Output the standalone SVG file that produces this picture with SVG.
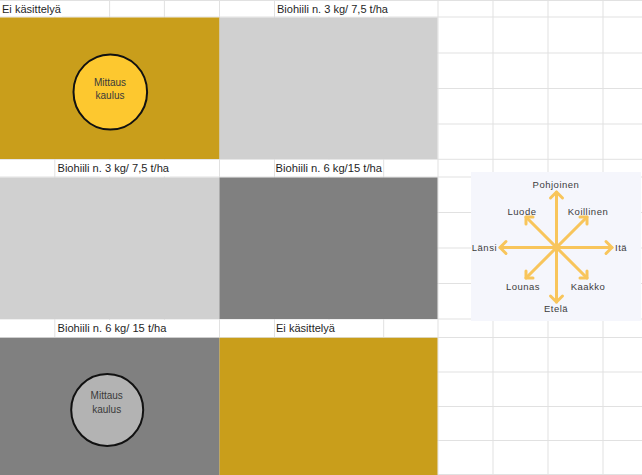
<svg xmlns="http://www.w3.org/2000/svg" width="642" height="475" viewBox="0 0 642 475">
<style>
.grid line{stroke:#E1E1E1;stroke-width:1}
.cell{font-family:"Liberation Sans",Arial,sans-serif;font-size:11px;fill:#1F1F1F}
.gold{fill:#C99E1B}
.lgrey{fill:#D0D0D0}
.dgrey{fill:#808080}
.ctext{font-family:"Liberation Sans",Arial,sans-serif;font-size:10px;fill:#3A3A3A;text-anchor:middle}
.dir{font-family:"Liberation Sans",Arial,sans-serif;font-size:9.5px;letter-spacing:0.5px;fill:#3C3C3C}
.arr{stroke:#F8C55B;stroke-width:3;fill:none;stroke-linecap:round;stroke-linejoin:round}
</style>
<rect width="642" height="475" fill="#FFFFFF"/>
<g id="grid" class="grid">
<line x1="54.8" y1="0" x2="54.8" y2="475"/>
<line x1="109.6" y1="0" x2="109.6" y2="475"/>
<line x1="164.4" y1="0" x2="164.4" y2="475"/>
<line x1="219.5" y1="0" x2="219.5" y2="475"/>
<line x1="274.5" y1="0" x2="274.5" y2="475"/>
<line x1="329" y1="0" x2="329" y2="475"/>
<line x1="383.7" y1="0" x2="383.7" y2="475"/>
<line x1="438" y1="0" x2="438" y2="475"/>
<line x1="493" y1="0" x2="493" y2="475"/>
<line x1="548" y1="0" x2="548" y2="475"/>
<line x1="603" y1="0" x2="603" y2="475"/>
<line x1="0" y1="0.5" x2="642" y2="0.5"/>
<line x1="0" y1="17" x2="642" y2="17"/>
<line x1="0" y1="53" x2="642" y2="53"/>
<line x1="0" y1="88.5" x2="642" y2="88.5"/>
<line x1="0" y1="124" x2="642" y2="124"/>
<line x1="0" y1="159.3" x2="642" y2="159.3"/>
<line x1="0" y1="177" x2="642" y2="177"/>
<line x1="0" y1="212.5" x2="642" y2="212.5"/>
<line x1="0" y1="248" x2="642" y2="248"/>
<line x1="0" y1="283.5" x2="642" y2="283.5"/>
<line x1="0" y1="319" x2="642" y2="319"/>
<line x1="0" y1="337.5" x2="642" y2="337.5"/>
<line x1="0" y1="372" x2="642" y2="372"/>
<line x1="0" y1="406.5" x2="642" y2="406.5"/>
<line x1="0" y1="440.5" x2="642" y2="440.5"/>
<line x1="0" y1="474.5" x2="642" y2="474.5"/>
</g>
<g id="overflow-masks" fill="#FFFFFF">
<rect x="50" y="1.2" width="12" height="15.3"/>
<rect x="320" y="1.2" width="68" height="15.3"/>
<rect x="100" y="160" width="70" height="16.4"/>
<rect x="320" y="160" width="60" height="16.4"/>
<rect x="100" y="320" width="68" height="16.8"/>
<rect x="320" y="320" width="14" height="16.8"/>
</g>
<g id="plot-1"><rect class="gold" x="0" y="17.5" width="219.5" height="141.5"/></g>
<g id="plot-2"><rect class="lgrey" x="219.5" y="17.5" width="218" height="141.5"/></g>
<g id="plot-3"><rect class="lgrey" x="0" y="177.5" width="219.5" height="141.5"/></g>
<g id="plot-4"><rect class="dgrey" x="219.5" y="177.5" width="218" height="141.5"/></g>
<g id="plot-5"><rect class="dgrey" x="0" y="337.8" width="219.5" height="137.2"/></g>
<g id="plot-6"><rect class="gold" x="219.5" y="337.8" width="218" height="137.2"/></g>
<g id="labels">
<text class="cell" x="2" y="13" textLength="59" lengthAdjust="spacingAndGlyphs">Ei käsittelyä</text>
<text class="cell" x="277" y="13" textLength="111" lengthAdjust="spacingAndGlyphs">Biohiili n. 3 kg/ 7,5 t/ha</text>
<text class="cell" x="57.5" y="171.5" textLength="111.5" lengthAdjust="spacingAndGlyphs">Biohiili n. 3 kg/ 7,5 t/ha</text>
<text class="cell" x="275.5" y="171.5" textLength="106.5" lengthAdjust="spacingAndGlyphs">Biohiili n. 6 kg/15 t/ha</text>
<text class="cell" x="57.5" y="331.5" textLength="109" lengthAdjust="spacingAndGlyphs">Biohiili n. 6 kg/ 15 t/ha</text>
<text class="cell" x="276" y="331.5" textLength="59" lengthAdjust="spacingAndGlyphs">Ei käsittelyä</text>
</g>
<g id="collar-1">
<ellipse cx="110.3" cy="92" rx="36.8" ry="37.6" fill="#FDC82F" stroke="#111111" stroke-width="2"/>
<text class="ctext" x="110" y="86">Mittaus</text>
<text class="ctext" x="110" y="98.7">kaulus</text>
</g>
<g id="collar-2">
<ellipse cx="107.2" cy="410" rx="36" ry="36" fill="#B3B3B3" stroke="#111111" stroke-width="2"/>
<text class="ctext" x="106.7" y="399.3">Mittaus</text>
<text class="ctext" x="106.7" y="413.3">kaulus</text>
</g>
<g id="compass">
<rect x="471" y="172" width="170" height="149" fill="#F5F6FC"/>
<g id="compass-arrows" class="arr">
<line x1="556.5" y1="192" x2="556.5" y2="302"/>
<line x1="500" y1="247.5" x2="612" y2="247.5"/>
<line x1="526" y1="217" x2="587" y2="278"/>
<line x1="587" y1="217" x2="526" y2="278"/>
<polyline points="550.5,198 556.5,192 562.5,198"/>
<polyline points="550.5,296 556.5,302 562.5,296"/>
<polyline points="506,241.5 500,247.5 506,253.5"/>
<polyline points="606,241.5 612,247.5 606,253.5"/>
<polyline points="580,217 587,217 587,224"/>
<polyline points="533,217 526,217 526,224"/>
<polyline points="526,271 526,278 533,278"/>
<polyline points="587,271 587,278 580,278"/>
</g>
<text class="dir" x="556" y="188" text-anchor="middle">Pohjoinen</text>
<text class="dir" x="522" y="214.5" text-anchor="middle">Luode</text>
<text class="dir" x="588" y="214.5" text-anchor="middle">Koillinen</text>
<text class="dir" x="497" y="251" text-anchor="end">Länsi</text>
<text class="dir" x="615" y="251">Itä</text>
<text class="dir" x="523" y="289.5" text-anchor="middle">Lounas</text>
<text class="dir" x="588" y="289.5" text-anchor="middle">Kaakko</text>
<text class="dir" x="556" y="311.5" text-anchor="middle">Etelä</text>
</g>
</svg>
